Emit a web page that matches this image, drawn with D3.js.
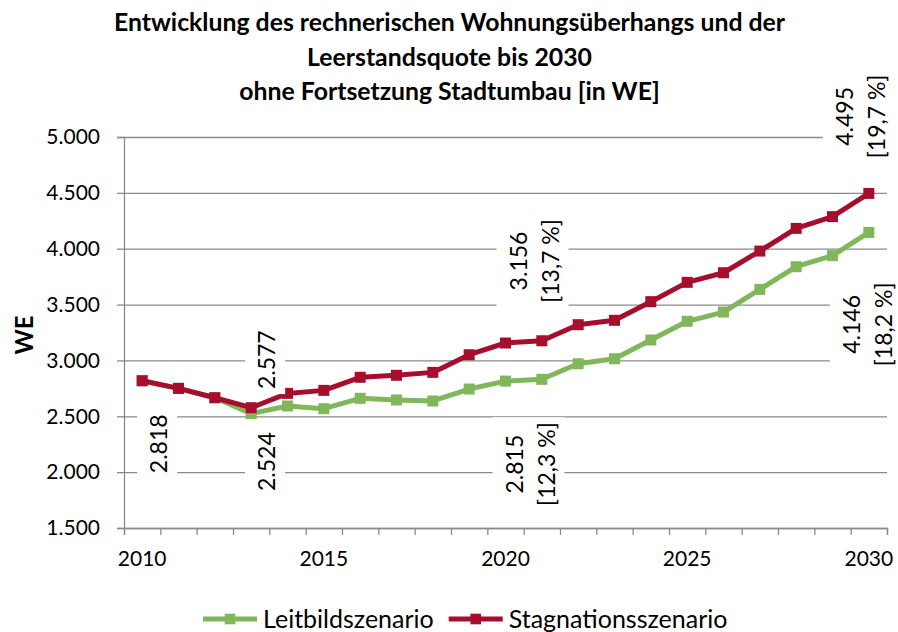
<!DOCTYPE html>
<html>
<head>
<meta charset="utf-8">
<script src="https://cdn.jsdelivr.net/npm/d3@7/dist/d3.min.js"></script>
<style>
  body { margin: 0; background: #fff; }
  svg { display: block; }
  text { font-family: Lato, "Open Sans", sans-serif; fill: #000; }
</style>
</head>
<body>
<svg id="chart" width="898" height="632"></svg>
<script>
// ---- data ----
const years = [2010, 2011, 2012, 2013, 2014, 2015, 2016, 2017, 2018, 2019, 2020,
               2021, 2022, 2023, 2024, 2025, 2026, 2027, 2028, 2029, 2030];

const leitbild = [2818, 2750, 2666, 2524, 2592, 2568, 2661, 2646, 2637, 2744, 2815,
                  2831, 2970, 3015, 3183, 3350, 3433, 3636, 3839, 3938, 4146];

const stagnation = [2818, 2750, 2666, 2577, 2705, 2732, 2849, 2867, 2893, 3051, 3156,
                    3176, 3320, 3359, 3526, 3699, 3785, 3979, 4182, 4287, 4495];

const seriesNames = ["Leitbildszenario", "Stagnationsszenario"];

const yTicks = [1500, 2000, 2500, 3000, 3500, 4000, 4500, 5000];
const xTickLabels = [2010, 2015, 2020, 2025, 2030];

const titleLines = [
  "Entwicklung des rechnerischen Wohnungsüberhangs und der",
  "Leerstandsquote bis 2030",
  "ohne Fortsetzung Stadtumbau [in WE]"
];
const yTitle = "WE";

// labelled points: series index, year, vacancy rate (Leerstandsquote) if shown
const labelSeries = [0, 1, 0, 1, 0, 1, 0];
const labelYears  = [2010, 2013, 2013, 2020, 2020, 2030, 2030];
const labelQuotes = [null, null, null, "13,7", "12,3", "19,7", "18,2"];

// ---- layout ----
const W = 898, H = 632;
const plot = { left: 124, right: 887, top: 137, bottom: 528 };
const colors = ["#7FB75A", "#A50F2D"];
// placement of each label's first baseline relative to its point
const labelOffsets = [
  { dx: 25, dy: 63 }, { dx: 24, dy: -48 }, { dx: 24, dy: 48 },
  { dx: 21, dy: -82 }, { dx: 17, dy: 83 }, { dx: -16, dy: -77 }, { dx: -9, dy: 92 }
];

const de = d3.formatLocale({ decimal: ",", thousands: ".", grouping: [3], currency: ["", " €"] });
const fmt = de.format(",.0f");

const svg = d3.select("#chart");

const x = d3.scaleBand().domain(years).range([plot.left, plot.right]).padding(0);
const xEdge = d3.scaleLinear().domain([years[0] - 0.5, years[years.length - 1] + 0.5])
  .range([plot.left, plot.right]);
const y = d3.scaleLinear().domain([1500, 5000]).range([plot.bottom, plot.top]);
const cx = yr => x(yr) + x.bandwidth() / 2;

const gridColor = "#8a8a8a";

// gridlines
const grid = svg.append("g").attr("transform", `translate(${plot.left},0)`)
  .call(d3.axisLeft(y).tickValues(yTicks).tickSize(-(plot.right - plot.left)).tickFormat(""));
grid.select(".domain").remove();
grid.selectAll("line").attr("stroke", gridColor).attr("stroke-width", 1.3);

// y axis
const yAxis = svg.append("g").attr("transform", `translate(${plot.left},0)`)
  .call(d3.axisLeft(y).tickValues(yTicks).tickSize(7).tickPadding(17).tickFormat(fmt));
yAxis.select(".domain").attr("stroke", gridColor).attr("stroke-width", 1.3);
yAxis.selectAll("line").attr("stroke", gridColor).attr("stroke-width", 1.3);
yAxis.selectAll("text").attr("font-size", 21).attr("font-family", "Lato, sans-serif").attr("fill", "#000");

// x axis: ticks between categories
const xTicksAxis = svg.append("g").attr("transform", `translate(0,${plot.bottom})`)
  .call(d3.axisBottom(xEdge).tickValues(d3.range(years.length + 1).map(i => years[0] - 0.5 + i))
    .tickSize(7).tickFormat(""));
xTicksAxis.select(".domain").attr("stroke", gridColor).attr("stroke-width", 1.3);
xTicksAxis.selectAll("line").attr("stroke", gridColor).attr("stroke-width", 1.3);

// x axis labels
const xAxis = svg.append("g").attr("transform", `translate(0,${plot.bottom})`)
  .call(d3.axisBottom(x).tickValues(xTickLabels).tickSize(0).tickPadding(23));
xAxis.select(".domain").remove();
xAxis.selectAll("text").attr("font-size", 21).attr("font-family", "Lato, sans-serif").attr("fill", "#000");

// title
svg.append("text")
  .attr("text-anchor", "middle")
  .attr("font-size", 24.8).attr("font-weight", "bold")
  .selectAll("tspan").data(titleLines).join("tspan")
  .attr("x", 449.5).attr("y", (d, i) => 31 + i * 34.5)
  .text(d => d);

// y title
svg.append("text")
  .attr("transform", "translate(33,335) rotate(-90)")
  .attr("text-anchor", "middle")
  .attr("font-size", 24).attr("font-weight", "bold")
  .text(yTitle);

// series lines and markers
const seriesValues = [leitbild, stagnation];
const line = d3.line().x(d => cx(d.year)).y(d => y(d.value));
seriesValues.forEach((vals, s) => {
  const pts = years.map((yr, i) => ({ year: yr, value: vals[i] }));
  const g = svg.append("g");
  g.append("path").datum(pts)
    .attr("d", line).attr("fill", "none")
    .attr("stroke", colors[s]).attr("stroke-width", 5).attr("stroke-linejoin", "round");
  const m = 11;
  g.selectAll("rect").data(pts).join("rect")
    .attr("x", d => cx(d.year) - m / 2).attr("y", d => y(d.value) - m / 2)
    .attr("width", m).attr("height", m)
    .attr("fill", colors[s]);
});

// data labels (rotated, on white boxes)
const labelLayer = svg.append("g");
labelSeries.forEach((s, k) => {
  const yr = labelYears[k];
  const v = seriesValues[s][years.indexOf(yr)];
  const lines = [fmt(v)];
  if (labelQuotes[k]) lines.push(`[${labelQuotes[k]} %]`);
  const ax = cx(yr) + labelOffsets[k].dx;
  const ay = y(v) + labelOffsets[k].dy;
  const g = labelLayer.append("g");
  const box = g.append("rect").attr("fill", "#fff");
  const t = g.append("text")
    .attr("transform", `translate(${ax},${ay}) rotate(-90)`)
    .attr("text-anchor", "middle").attr("font-size", 23);
  t.selectAll("tspan").data(lines).join("tspan")
    .attr("x", 0).attr("y", (d, i) => i * 32).text(d => d);
  let len = 0;
  t.selectAll("tspan").each(function () { len = Math.max(len, this.getComputedTextLength()); });
  box.attr("x", ax - 30).attr("width", 40 + (lines.length - 1) * 32)
    .attr("y", ay - len / 2 - 5).attr("height", len + 10);
});

// legend
const legend = svg.append("g");
let lx = 203;
const ly = 619;
seriesNames.forEach((name, s) => {
  legend.append("line").attr("x1", lx).attr("x2", lx + 54).attr("y1", ly).attr("y2", ly)
    .attr("stroke", colors[s]).attr("stroke-width", 5);
  legend.append("rect").attr("x", lx + 27 - 5.3).attr("y", ly - 5.3)
    .attr("width", 10.6).attr("height", 10.6).attr("fill", colors[s]);
  const t = legend.append("text").attr("x", lx + 60).attr("y", ly + 9)
    .attr("font-size", 25).text(name);
  lx += 60 + t.node().getComputedTextLength() + 15;
});
</script>
</body>
</html>
